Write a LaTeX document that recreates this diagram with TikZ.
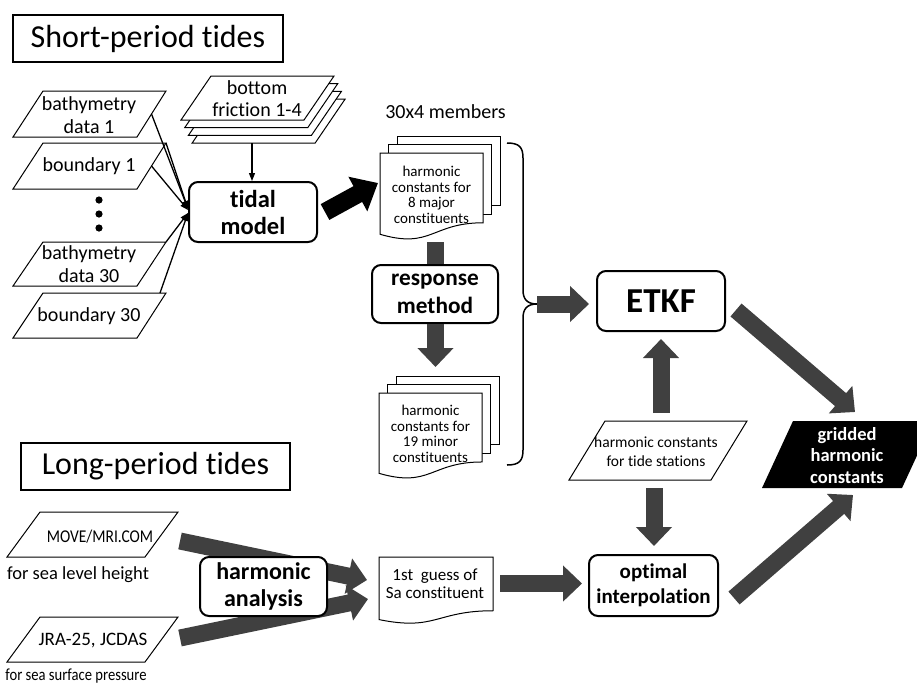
\documentclass[tikz,border=0pt]{standalone}
\usepackage{fontspec}
\usepackage{graphicx}
\setmainfont{Carlito}[Ligatures={NoCommon,NoContextual}]
\usetikzlibrary{arrows.meta,calc,backgrounds}
\definecolor{agray}{RGB}{64,64,64}
\newcommand\mydoc[4]{%
 \draw[para] (#1,#2) -- ({#1+#3},#2) -- ({#1+#3},{#2+0.802*#4}) .. controls ({#1+#3/2},{#2+0.802*#4}) and ({#1+#3/2},{#2+1.1075*#4}) .. (#1,{#2+0.934*#4}) -- cycle;}
\newcommand\mystack[4]{%
 \draw[para] ({#1+17},{#2-17}) rectangle ++(#3,{0.802*#4});
 \draw[para] ({#1+8.5},{#2-8.5}) rectangle ++(#3,{0.802*#4});
 \mydoc{#1}{#2}{#3}{#4}}
\begin{document}
\begin{tikzpicture}[x=1pt,y=-1pt,
  para/.style={draw, line width=1pt, fill=white},
  titlebox/.style={draw, line width=1.5pt, inner sep=0pt, font=\fontsize{32}{38}\selectfont},
  rbox/.style={draw, line width=2pt, rounded corners=9pt, fill=white, align=center, inner sep=0pt},
  lab/.style={align=center, inner sep=0pt},
  fat/.style={draw=agray, line width=17pt, line cap=butt, -{Triangle[width=35pt,length=19pt]}},
  fatbar/.style={draw=agray, line width=17pt, line cap=butt},
  blackfat/.style={draw=black, line width=18pt, line cap=butt, -{Triangle[width=38pt,length=23pt]}},
  thin/.style={line width=1.3pt, -{Triangle[width=6pt,length=8pt]}}]
\useasboundingbox (0,0) rectangle (917,686);
\begin{pgfonlayer}{background}
\fill[white] (0,0) rectangle (917,686);
\end{pgfonlayer}

% titles
\node[titlebox, minimum width=270pt, minimum height=47pt] (short) at (148,38.5) {Short-period tides};
\node[titlebox, minimum width=269pt, minimum height=47pt] (long) at (155.5,466.5) {Long-period tides};

% bottom friction stack
\foreach \i in {3,2,1,0} {
  \draw[para] ($(181,120)+\i*(3.7,7.7)$) -- ++(30,-44) -- ++(123,0) -- ++(-30,44) -- cycle;
}
\node[lab, font=\fontsize{20}{22}\selectfont] (fric) at (257,99) {bottom\\friction 1-4};

% input parallelograms
\draw[para] (13,137) -- (43,91) -- (166,91) -- (137,137) -- cycle;
\draw[para] (13,189) -- (43,143) -- (166,143) -- (137,189) -- cycle;
\draw[para] (13,286) -- (43,242) -- (166,242) -- (137,286) -- cycle;
\draw[para] (13,338) -- (43,293) -- (166,293) -- (137,338) -- cycle;
\node[lab, font=\fontsize{20}{23}\selectfont] (b1) at (89,115) {bathymetry\\data 1};
\node[lab, font=\fontsize{20}{23}\selectfont] (bd1) at (89,166) {boundary 1};
\node[lab, font=\fontsize{20}{23}\selectfont] (b30) at (89,264) {bathymetry\\data 30};
\node[lab, font=\fontsize{20}{23}\selectfont] (bd30) at (89,316) {boundary 30};
\fill (99,200) circle (3.6) (99,214) circle (3.6) (99,228) circle (3.6);

% tidal model
\node[rbox, minimum width=128pt, minimum height=60pt, font=\bfseries\fontsize{24.5}{27}\selectfont] (tidal) at (253,212) {tidal\\model};
\coordinate (s1) at (151.5,114);
\coordinate (s2) at (166,143);
\coordinate (s3) at (151.5,166);
\coordinate (s4) at (166,242);
\coordinate (s5) at (160,293);
\draw[thin] (s1) -- ($(tidal.west)+(0,-3)$);
\draw[thin] (s2) -- ($(tidal.west)+(0,-3)$);
\draw[thin] (s3) -- ($(tidal.west)+(0,-2)$);
\draw[thin] (s4) -- ($(tidal.west)+(0,1)$);
\draw[thin] (s5) -- ($(tidal.west)+(0,1)$);
\coordinate (fb) at (252,143);
\draw[thin] (fb) -- (fb |- tidal.north);

% members
\node[font=\fontsize{20}{24}\selectfont, inner sep=0pt] (mem) at (445.5,112) {30x4 members};
\mystack{380}{153}{103}{87}
\node[lab, font=\fontsize{15}{15.5}\selectfont] (doc1) at (431.5,195) {harmonic\\constants for\\8 major\\constituents};
\mystack{379}{393}{103}{86}
\node[lab, font=\fontsize{15}{15.5}\selectfont] (doc2) at (430.5,434) {harmonic\\constants for\\19 minor\\constituents};

% tidal -> doc1
\coordinate (t1) at (325,212);
\coordinate (d1) at (378,183);
\draw[blackfat] (t1) -- (d1);

% response method
\coordinate (d1b) at (435.5,242);
\begin{pgfonlayer}{background}
\draw[fatbar] (d1b) -- (435.5,280);
\end{pgfonlayer}
\node[rbox, minimum width=126pt, minimum height=58pt, font=\bfseries\fontsize{23.3}{28}\selectfont] (resp) at (435,294) {response\\method};
\coordinate (d2t) at (435.5,367);
\draw[fat] (resp.south -| d2t) -- (d2t);

% brace
\draw[line width=1.5pt] (507,143) .. controls (519,143) and (523,147) .. (523,158) -- (523,290) .. controls (523,299) and (527,304) .. (537,304) .. controls (527,304) and (523,309) .. (523,318) -- (523,450) .. controls (523,461) and (519,465) .. (507,465);
\coordinate (brtip) at (537,304);

% ETKF
\node[rbox, minimum width=128pt, minimum height=60pt, font=\bfseries\fontsize{35}{38}\selectfont] (etkf) at (661,301) {ETKF};
\draw[fat] (brtip) -- ($(brtip -| etkf.west)+(-7,0)$);

% tide stations
\draw[para] (569,480) -- (605,421) -- (747,421) -- (711,480) -- cycle;
\node[lab, font=\fontsize{15.5}{19}\selectfont] (tide) at (656,452) {harmonic constants\\for tide stations};
\coordinate (tup) at (661,413);
\draw[fat] (tup) -- ($(etkf.south)+(0,7)$);

% optimal interpolation
\node[rbox, minimum width=129pt, minimum height=61pt, font=\bfseries\fontsize{21}{25}\selectfont] (oi) at (653.5,585.5) {optimal\\interpolation};
\coordinate (tdn) at (654,488);
\draw[fat] (tdn) -- ($(tdn |- oi.north)+(0,-8)$);

% gridded
\fill (762,488) -- (793,421) -- (933,421) -- (902,488) -- cycle;
\node[lab, text=white, font=\bfseries\fontsize{18.5}{21.5}\selectfont] (grid) at (847,455.5) {gridded\\harmonic\\constants};
\coordinate (e1) at (736,310);
\coordinate (gr2) at (855,412);
\draw[fat] (e1) -- (gr2);
\coordinate (o1) at (734,598);
\coordinate (gr1) at (853,495);
\draw[fat] (o1) -- (gr1);

% long period inputs
\draw[para] (7,557) -- (40,512) -- (178,512) -- (145,557) -- cycle;
\draw[para] (7,662) -- (40,617) -- (178,617) -- (145,662) -- cycle;
\node[lab, font=\fontsize{18}{22}\selectfont] (move) at (100,537) {\scalebox{0.86}[1]{MOVE/MRI.COM}};
\node[lab, font=\fontsize{18.5}{22}\selectfont] (slh) at (78,575) {for sea level height};
\node[lab, font=\fontsize{19}{22}\selectfont] (jra) at (93,641) {JRA-25, JCDAS};
\node[lab, font=\fontsize{17}{20}\selectfont] (ssp) at (76,676) {\scalebox{0.86}[1]{for sea surface pressure}};

% harmonic analysis
\node[rbox, minimum width=127pt, minimum height=59pt, font=\bfseries\fontsize{24}{27}\selectfont] (ha) at (263.5,586.5) {harmonic\\analysis};
\coordinate (m1) at (180,541);
\coordinate (gw1) at (367,580);
\coordinate (j1) at (180,638);
\coordinate (gw2) at (368,599);
\begin{pgfonlayer}{background}
\draw[fat] (m1) -- (gw1);
\draw[fat] (j1) -- (gw2);
\end{pgfonlayer}

% first guess
\mydoc{379}{557}{114}{67}
\node[lab, font=\fontsize{17}{18}\selectfont] (guess) at (435,584) {1st~~guess of\\Sa constituent};
\coordinate (g1) at (500,583.5);
\draw[fat] (g1) -- ($(oi.west |- g1)+(-6,0)$);
\end{tikzpicture}
\end{document}
